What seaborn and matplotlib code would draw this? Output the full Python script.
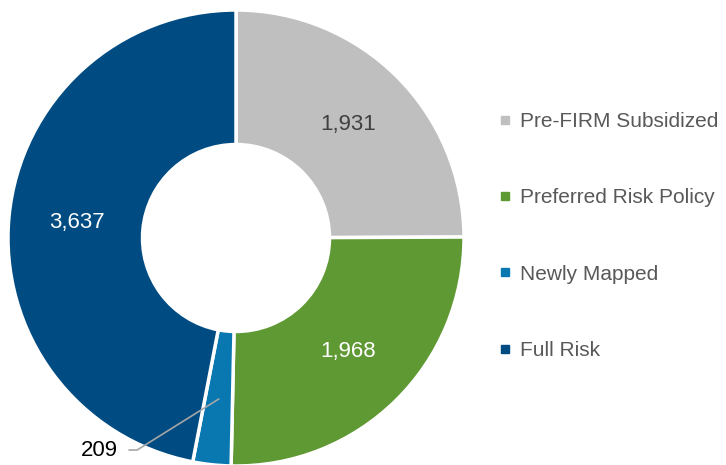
import matplotlib.pyplot as plt
import seaborn as sns
from matplotlib.lines import Line2D
import numpy as np

# Datos del gráfico
categorias = ['Pre-FIRM Subsidized', 'Preferred Risk Policy', 'Newly Mapped', 'Full Risk']
valores = [1931, 1968, 209, 3637]
colores = ['#BFBFBF', '#5F9933', '#0A78B0', '#004B82']
colores_texto = ['#404040', 'white', None, 'white']

sns.set_theme(style='white')
plt.rcParams['font.family'] = ['Liberation Sans', 'DejaVu Sans']

fig = plt.figure(figsize=(7.26, 4.65), dpi=100)
ax = fig.add_axes([8 / 726, (465 - 238 - 228) / 465, 456 / 726, 456 / 465])

total = sum(valores)
wedges, textos, autotextos = ax.pie(
    valores, colors=colores, startangle=90, counterclock=False,
    wedgeprops=dict(width=0.59, edgecolor='white', linewidth=2.5),
    autopct=lambda p: f'{p * total / 100:,.0f}', pctdistance=0.70,
    textprops=dict(fontsize=16))
ax.set_xlim(-1, 1)
ax.set_ylim(-1, 1)
ax.set_aspect('equal')

for t, c in zip(autotextos, colores_texto):
    if c is None:
        t.set_visible(False)
    else:
        t.set_color(c)

# Etiqueta con línea guía para el segmento pequeño
w = wedges[2]
ang = np.deg2rad((w.theta1 + w.theta2) / 2)
ax.annotate(f'{valores[2]:,}', xy=(0.71 * np.cos(ang), 0.71 * np.sin(ang)),
            xytext=(-0.52, -0.93), ha='right', va='center', fontsize=16, color='black',
            annotation_clip=False,
            arrowprops=dict(arrowstyle='-', color='#A6A6A6', lw=1.2,
                            connectionstyle='angle,angleA=0,angleB=32',
                            relpos=(1, 0.5), shrinkA=6, shrinkB=0))

handles = [Line2D([0], [0], marker='s', linestyle='', markersize=6,
                  markerfacecolor=c, markeredgecolor=c) for c in colores]
fig.legend(handles, categorias, loc='center left', bbox_to_anchor=(490 / 726, 1 - 236 / 465),
           frameon=False, fontsize=15, labelcolor='#595959', labelspacing=2.75,
           handlelength=0.6, handletextpad=0.45, borderaxespad=0)

plt.savefig('out.png', dpi=100)
